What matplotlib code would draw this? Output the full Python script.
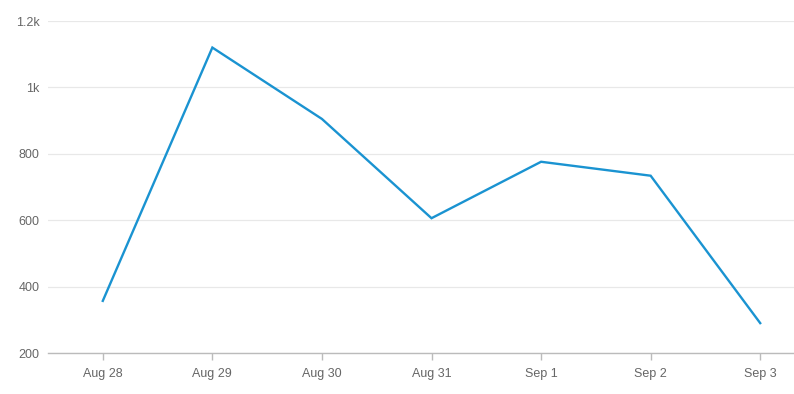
import matplotlib.pyplot as plt

# Daily counts
dates = ['Aug 28', 'Aug 29', 'Aug 30', 'Aug 31', 'Sep 1', 'Sep 2', 'Sep 3']
values = [357, 1120, 905, 606, 776, 734, 290]
y_ticks = [200, 400, 600, 800, 1000, 1200]
y_labels = ['200', '400', '600', '800', '1k', '1.2k']

plt.rcParams['font.family'] = ['Liberation Sans', 'DejaVu Sans']

fig = plt.figure(figsize=(7.94, 3.94), dpi=100)
# axes run past the right edge, the original chart is clipped there
ax = fig.add_axes([48 / 794, 41 / 394, 767 / 794, 332 / 394])

x = list(range(len(dates)))
ax.plot(x, values, color='#1a93d1', linewidth=1.7, solid_joinstyle='miter', zorder=3)

ax.set_xlim(-0.5, len(dates) - 0.5)
ax.set_ylim(200, 1200)
ax.set_xticks(x)
ax.set_xticklabels(dates)
ax.set_yticks(y_ticks)
ax.set_yticklabels(y_labels)

ax.grid(axis='y', color='#e8e8e8', linewidth=0.9)
ax.set_axisbelow(True)
for side in ['top', 'right', 'left']:
    ax.spines[side].set_visible(False)
ax.spines['bottom'].set_color('#bbbbbb')
ax.spines['bottom'].set_linewidth(1.0)

ax.tick_params(axis='x', colors='#bbbbbb', labelcolor='#666666', labelsize=9,
               length=5, width=1, pad=6)
ax.tick_params(axis='y', length=0, labelcolor='#666666', labelsize=9, pad=6)

fig.savefig('out.png', dpi=100)
